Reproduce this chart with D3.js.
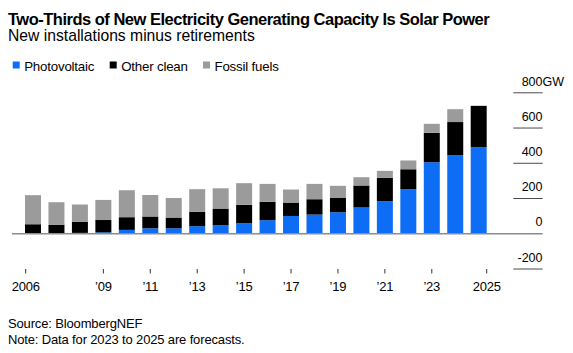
<!DOCTYPE html>
<html>
<head>
<meta charset="utf-8">
<script src="https://cdn.jsdelivr.net/npm/d3@7"></script>
<style>
  body { margin: 0; background: #fff; }
  svg text { font-family: "Liberation Sans", Arial, Helvetica, sans-serif; fill: #000; }
</style>
</head>
<body>
<svg id="chart" width="573" height="353"></svg>
<script>
// data (GW, new installations minus retirements)
var years = [2006, 2007, 2008, 2009, 2010, 2011, 2012, 2013, 2014, 2015,
             2016, 2017, 2018, 2019, 2020, 2021, 2022, 2023, 2024, 2025];
var photovoltaic = [3, 2, 5, 8, 22, 31, 31, 43, 48, 60,
                    77, 101, 109, 122, 149, 185, 253, 406, 446, 491];
var otherClean = [51, 48, 62, 70, 72, 67, 61, 81, 95, 104,
                  104, 76, 87, 81, 125, 132, 113, 167, 188, 235];
var fossilFuels = [165, 129, 99, 114, 153, 122, 111, 129, 115, 123,
                   102, 74, 87, 69, 47, 40, 50, 51, 73, 0];
var seriesNames = ["Photovoltaic", "Other clean", "Fossil fuels"];
var seriesColors = ["#0d6ef5", "#000000", "#9b9b9b"];
var yTicks = [-200, 0, 200, 400, 600, 800];
var xTickYears = [2006, 2009, 2011, 2013, 2015, 2017, 2019, 2021, 2023, 2025];

var svg = d3.select("#chart");

var rows = years.map(function (yr, i) {
  return { year: yr, pv: photovoltaic[i], other: otherClean[i], fossil: fossilFuels[i] };
});
var keys = ["pv", "other", "fossil"];
var stacked = d3.stack().keys(keys)(rows);

var x = d3.scaleBand().domain(years).range([25, 486.7]).paddingInner(0.318).paddingOuter(0);
var y = d3.scaleLinear().domain([-200, 800]).range([269, 92.8]);

// titles
svg.append("text").attr("x", 8).attr("y", 25)
  .style("font-size", "16.5px").style("font-weight", "bold").style("letter-spacing", "-0.5px")
  .text("Two-Thirds of New Electricity Generating Capacity Is Solar Power");
svg.append("text").attr("x", 8).attr("y", 41)
  .style("font-size", "15.7px")
  .text("New installations minus retirements");

// legend
var legendX = [12.7, 109.7, 203];
var legend = svg.selectAll(".legend").data(seriesNames).enter().append("g")
  .attr("class", "legend")
  .attr("transform", function (d, i) { return "translate(" + legendX[i] + ",0)"; });
legend.append("rect").attr("x", 0).attr("y", 61.5).attr("width", 7).attr("height", 7)
  .style("fill", function (d, i) { return seriesColors[i]; });
legend.append("text").attr("x", 11.5).attr("y", 70.5)
  .style("font-size", "13.3px").style("letter-spacing", "-0.2px")
  .text(function (d) { return d; });

// y axis: short rules with labels above them, on the right
var yAxisG = svg.append("g");
yAxisG.selectAll("line").data(yTicks.filter(function (d) { return d !== 0; })).enter().append("line")
  .attr("x1", 513.3).attr("x2", 542.7)
  .attr("y1", function (d) { return y(d); }).attr("y2", function (d) { return y(d); })
  .style("stroke", "#4a4a4a").style("stroke-width", 1);
yAxisG.selectAll("text").data(yTicks).enter().append("text")
  .attr("x", 542.5).attr("y", function (d) { return y(d) - 7.3; })
  .attr("text-anchor", "end")
  .style("font-size", "12.5px")
  .text(function (d) { return d; });
svg.append("text").attr("x", 542.5).attr("y", y(800) - 7.3)
  .style("font-size", "12.5px").text("GW");

// bars
var layer = svg.selectAll(".layer").data(stacked).enter().append("g")
  .attr("class", "layer")
  .style("fill", function (d, i) { return seriesColors[i]; });
layer.selectAll("rect").data(function (d) { return d; }).enter().append("rect")
  .attr("x", function (d) { return x(d.data.year); })
  .attr("width", x.bandwidth())
  .attr("y", function (d) { return y(d[1]); })
  .attr("height", function (d) { return Math.max(0, y(d[0]) - y(d[1])); });

// zero baseline
svg.append("line")
  .attr("x1", 12).attr("x2", 542.7)
  .attr("y1", y(0)).attr("y2", y(0))
  .style("stroke", "#8c8c8c").style("stroke-width", 1.6);

// x axis ticks: end years sit on the outer edges of their bars
function tickPos(yr) {
  if (yr === years[0]) return x(yr) + 0.7;
  if (yr === years[years.length - 1]) return x(yr) + x.bandwidth();
  return x(yr) + x.bandwidth() / 2;
}
function tickLabel(yr) {
  if (yr === years[0] || yr === years[years.length - 1]) return String(yr);
  return "\u2019" + String(yr).slice(2);
}
var xAxisG = svg.append("g");
xAxisG.selectAll("line").data(xTickYears).enter().append("line")
  .attr("x1", tickPos).attr("x2", tickPos)
  .attr("y1", 269).attr("y2", 273.5)
  .style("stroke", "#333").style("stroke-width", 1);
xAxisG.selectAll("text").data(xTickYears).enter().append("text")
  .attr("x", tickPos).attr("y", 291)
  .attr("text-anchor", "middle")
  .style("font-size", "13px").style("letter-spacing", "-0.2px")
  .text(tickLabel);

// footer
svg.append("text").attr("x", 8).attr("y", 327.5)
  .style("font-size", "13px").style("letter-spacing", "-0.15px")
  .text("Source: BloombergNEF");
svg.append("text").attr("x", 8).attr("y", 343.5)
  .style("font-size", "13px").style("letter-spacing", "-0.15px")
  .text("Note: Data for 2023 to 2025 are forecasts.");
</script>
</body>
</html>
